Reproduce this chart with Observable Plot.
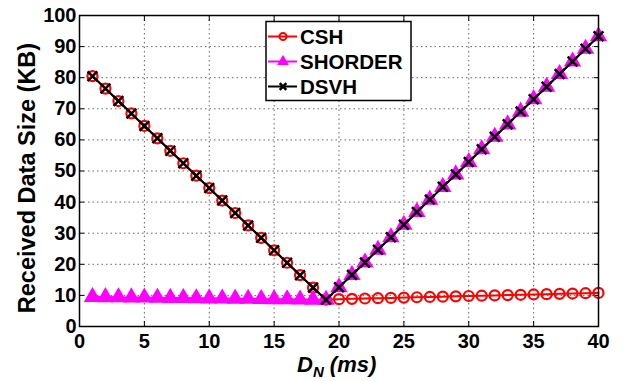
<!DOCTYPE html>
<html><head><meta charset="utf-8">
<script src="https://cdn.jsdelivr.net/npm/d3@7"></script>
<script src="https://cdn.jsdelivr.net/npm/@observablehq/plot@0.6"></script>
<style>body{margin:0;background:#fff}svg{font-family:"Liberation Sans",Arial,sans-serif}</style>
</head><body><div id="chart"></div>
<script>
const xs = d3.range(1, 41);
const csh = [80.5,76.5,72.5,68.5,64.5,60.5,56.5,52.5,48.5,44.5,40.5,36.5,32.5,28.5,24.5,20.5,16.5,12.5,8.6,
  8.8,8.9,9.0,9.1,9.2,9.3,9.4,9.5,9.6,9.7,9.8,9.9,10.0,10.1,10.2,10.3,10.4,10.5,10.6,10.7,10.8];
const shorder = [9.5,9.45,9.4,9.35,9.3,9.25,9.2,9.15,9.1,9.05,9.0,8.95,8.9,8.85,8.8,8.75,8.7,8.65,8.6,
  12.6,16.6,20.6,24.7,28.7,32.7,36.8,40.8,44.9,48.9,52.9,57.0,61.0,65.0,69.1,73.1,77.1,81.2,85.2,89.3,93.3];
const dsvh = [80.5,76.5,72.5,68.5,64.5,60.5,56.5,52.5,48.5,44.5,40.5,36.5,32.5,28.5,24.5,20.5,16.5,12.5,8.6,
  12.6,16.6,20.6,24.7,28.7,32.7,36.8,40.8,44.9,48.9,52.9,57.0,61.0,65.0,69.1,73.1,77.1,81.2,85.2,89.3,93.3];
const seriesNames = ["CSH","SHORDER","DSVH"];
const xTicks = [0,5,10,15,20,25,30,35,40];
const yTicks = [0,10,20,30,40,50,60,70,80,90,100];

const mk = v => xs.map((x,i)=>({x, y:v[i]}));
const dC = mk(csh), dS = mk(shorder), dD = mk(dsvh);

const plot = Plot.plot({
  width: 623, height: 381,
  marginLeft: 79, marginRight: 25, marginTop: 15, marginBottom: 55,
  x: {domain:[0,40], ticks: xTicks, label: null},
  y: {domain:[0,100], ticks: yTicks, label: null},
  style: {fontSize: "20px", fontWeight: "bold", color: "#000", background: "#fff"},
  marks: [
    Plot.gridX(xTicks, {stroke:"#555", strokeOpacity:0.9, strokeDasharray:"1.5,3"}),
    Plot.gridY(yTicks, {stroke:"#555", strokeOpacity:0.9, strokeDasharray:"1.5,3"}),
    Plot.axisX(xTicks, {tickSize: -5, tickPadding: 12, fontSize: 20, fontWeight: "bold"}),
    Plot.axisX(xTicks, {anchor:"top", tickSize: -5, label:null, tickFormat: () => ""}),
    Plot.axisY(yTicks, {tickSize: -5, tickPadding: 8, fontSize: 20, fontWeight: "bold"}),
    Plot.axisY(yTicks, {anchor:"right", tickSize: -5, label:null, tickFormat: () => ""}),
    Plot.line(dC, {x:"x", y:"y", stroke:"red", strokeWidth:2}),
    Plot.dot(dC, {x:"x", y:"y", r:5, stroke:"red", strokeWidth:2.2, fill:"none"}),
    Plot.line(dS, {x:"x", y:"y", stroke:"magenta", strokeWidth:2}),
    Plot.dot(dS, {x:"x", y:"y", symbol:"triangle", r:5.5, fill:"magenta", stroke:"magenta"}),
    Plot.line(dD, {x:"x", y:"y", stroke:"black", strokeWidth:2}),
    Plot.dot(dD, {x:"x", y:"y", symbol:"times", r:4.5, stroke:"black", strokeWidth:2.5}),
    Plot.frame({stroke:"black", strokeWidth:1.5})
  ]
});
document.getElementById("chart").append(plot);

const svg = d3.select(plot);
// axis labels
svg.append("text").attr("transform","translate(35,178) rotate(-90)")
  .attr("text-anchor","middle").attr("font-size",23.5).attr("font-weight","bold")
  .text("Received Data Size (KB)");
const xl = svg.append("text").attr("x",297).attr("y",372).attr("text-anchor","start")
  .attr("font-size",22).attr("font-weight","bold").attr("font-style","italic");
xl.append("tspan").text("D");
xl.append("tspan").attr("font-size",15).attr("dy",5).text("N");
xl.append("tspan").attr("dy",-5).text(" (ms)");

// legend
const lg = svg.append("g");
lg.append("rect").attr("x",266).attr("y",21.5).attr("width",145).attr("height",79)
  .attr("fill","#fff").attr("stroke","black").attr("stroke-width",1.5);
const styles = [{c:"red"},{c:"magenta"},{c:"black"}];
seriesNames.forEach((n,i)=>{
  const y = 36.5 + i*25;
  lg.append("line").attr("x1",268).attr("x2",297).attr("y1",y).attr("y2",y)
    .attr("stroke",styles[i].c).attr("stroke-width",2);
  const cx = 283;
  if (i===0) lg.append("circle").attr("cx",cx).attr("cy",y).attr("r",3.5).attr("fill","none").attr("stroke","red").attr("stroke-width",2);
  if (i===1) lg.append("path").attr("d",d3.symbol(d3.symbolTriangle, 60)()).attr("transform",`translate(${cx},${y})`).attr("fill","magenta");
  if (i===2) lg.append("path").attr("d",d3.symbol(d3.symbolTimes, 30)()).attr("transform",`translate(${cx},${y})`).attr("stroke","black").attr("stroke-width",2.5);
  lg.append("text").attr("x",300).attr("y",y).attr("dy","0.36em").attr("text-anchor","start")
    .attr("font-size",20.5).attr("font-weight","bold").text(n);
});
</script></body></html>
